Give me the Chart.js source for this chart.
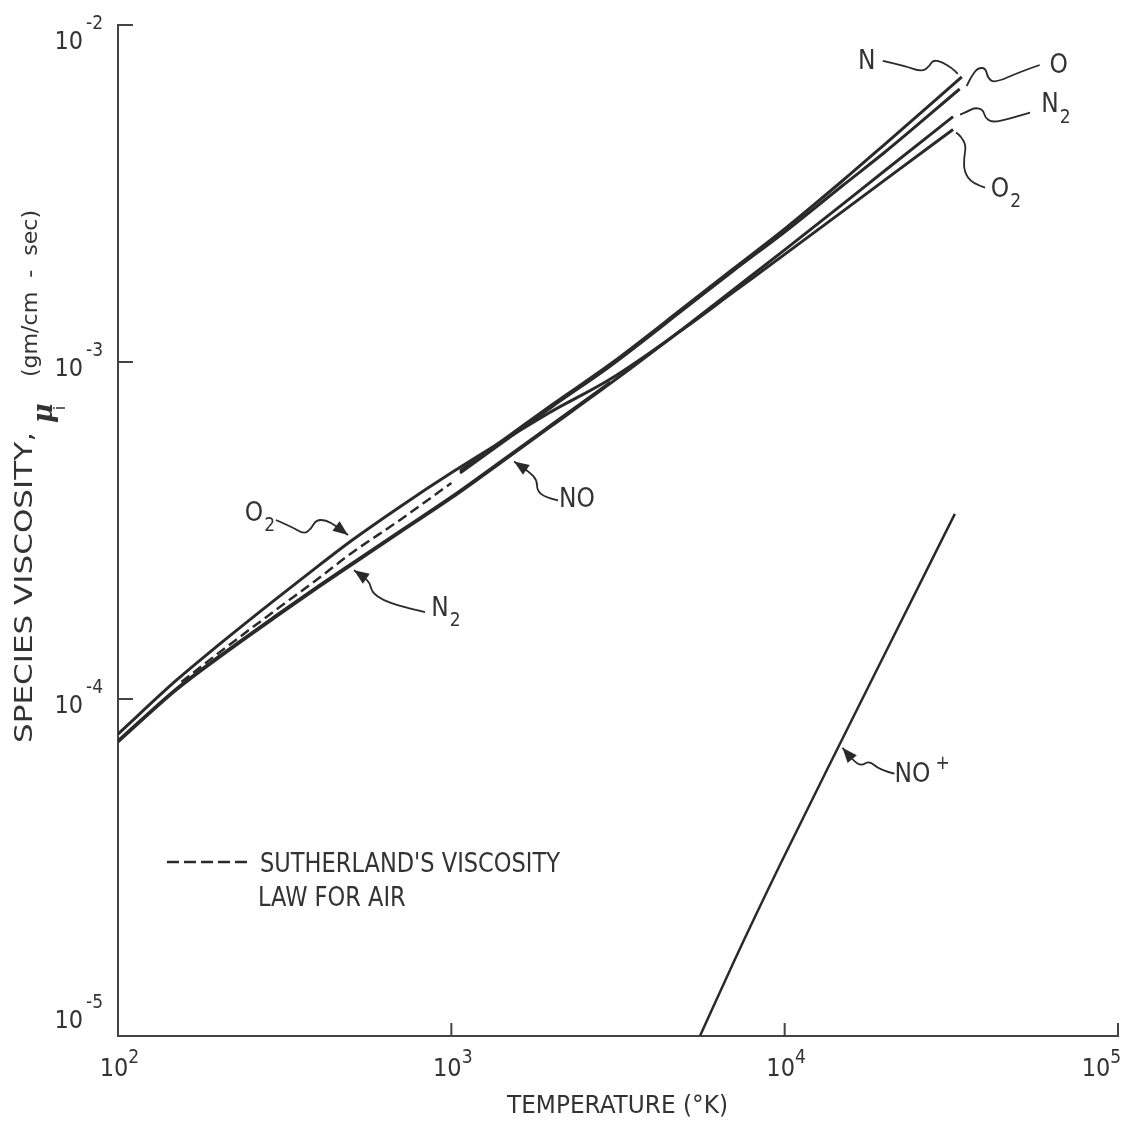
<!DOCTYPE html>
<html>
<head>
<meta charset="utf-8">
<title>Species viscosity</title>
<script src="https://cdn.jsdelivr.net/npm/chart.js@4.4.0/dist/chart.umd.min.js"></script>
<style>
  html, body { margin: 0; padding: 0; background: #fff; }
  canvas { display: block; }
</style>
</head>
<body>
<canvas id="viscosity_chart" width="1129" height="1121"></canvas>
<script>
/*------------------------------------------------------*/
/**
 * @file species viscosity vs temperature, log-log
 */
/*------------------------------------------------------*/

/**
 * @name temp_molecular
 * @description temperature grid (°K) shared by the N2 and O2 curves
 */
const temp_molecular = [100, 150, 200, 300, 400, 500, 700, 1000, 1500, 2000, 3000, 5000, 7000, 10000, 15000, 20000, 32000];
const visc_o2 = [7.87e-5, 1.139e-4, 1.445e-4, 1.993e-4, 2.487e-4, 2.943e-4, 3.715e-4, 4.690e-4, 6.014e-4, 7.135e-4, 8.898e-4, 1.259e-3, 1.609e-3, 2.086e-3, 2.808e-3, 3.470e-3, 4.896e-3];
const visc_n2 = [7.456e-5, 1.066e-4, 1.323e-4, 1.762e-4, 2.148e-4, 2.495e-4, 3.119e-4, 3.946e-4, 5.264e-4, 6.464e-4, 8.640e-4, 1.264e-3, 1.636e-3, 2.151e-3, 2.951e-3, 3.700e-3, 5.348e-3];

// NO runs along the top edge of N2
const temp_no = [100, 150, 200, 300, 400, 500, 700, 1000, 1500, 2000, 3000];
const visc_no = [7.532e-5, 1.077e-4, 1.336e-4, 1.780e-4, 2.171e-4, 2.521e-4, 3.151e-4, 3.987e-4, 5.318e-4, 6.531e-4, 8.728e-4];

// atomic species, only above ~1000 K
const temp_n = [1062, 1500, 2000, 3000, 5000, 7000, 10000, 15000, 20000, 34000];
const visc_n = [4.749e-4, 6.072e-4, 7.455e-4, 9.865e-4, 1.456e-3, 1.888e-3, 2.482e-3, 3.468e-3, 4.434e-3, 7.011e-3];
const temp_o = [1062, 1500, 2000, 3000, 5000, 7000, 10000, 15000, 20000, 33500];
const visc_o = [4.684e-4, 5.989e-4, 7.354e-4, 9.729e-4, 1.437e-3, 1.862e-3, 2.431e-3, 3.351e-3, 4.198e-3, 6.457e-3];

// Sutherland's law for air (dashed)
const temp_air = [155, 200, 300, 400, 500, 700, 1000];
const visc_air = [1.123e-4, 1.367e-4, 1.849e-4, 2.282e-4, 2.703e-4, 3.393e-4, 4.375e-4];

// NO+ ion
const temp_ion = [5570, 7000, 9700, 14600, 20000, 32400];
const visc_ion = [1.0e-5, 1.642e-5, 3.232e-5, 7.317e-5, 1.365e-4, 3.542e-4];

/**
 * @name x_ticks / y_ticks
 * @description decade ticks, labelled as powers of ten
 */
const x_ticks = [1e2, 1e3, 1e4, 1e5];
const x_exps = ['2', '3', '4', '5'];
const y_ticks = [1e-2, 1e-3, 1e-4, 1e-5];
const y_exps = ['-2', '-3', '-4', '-5'];

const ink = '#2a2a2a';
const narrow = '"Liberation Sans Narrow", "DejaVu Sans Condensed", "Arial Narrow", sans-serif';

const series = {
    O2: [temp_molecular, visc_o2],
    N2: [temp_molecular, visc_n2],
    NO: [temp_no, visc_no],
    N: [temp_n, visc_n],
    O: [temp_o, visc_o],
    ION: [temp_ion, visc_ion]
};

/**
 * @name notes
 * @description curve labels; anchor is a data point, offsets in px from it
 */
const notes = [
    {key: 'N', i: 9, text: 'N', label: [-95, -15],
     path: [[-79, -16], [-57, -11], [-40, -5], [-32, -11], [-29, -17], [-20, -15], [-10, -9], [-4, -3]]},
    {key: 'O', i: 9, text: 'O', label: [99, -23],
     path: [[80, -24], [60, -17], [35, -6], [28, -11], [26, -21], [18, -21], [12, -13], [7, -3]]},
    {key: 'N2', i: 16, text: 'N', sub: '2', label: [97, -11],
     path: [[77, -4], [57, 2], [39, 6], [32, 1], [30, -7], [22, -9], [14, -5], [7, -2]]},
    {key: 'O2', i: 16, text: 'O', sub: '2', label: [47, 61],
     path: [[32, 58], [19, 54], [11, 42], [11, 28], [13, 16], [8, 7], [3, 3]]},
    {key: 'O2', i: 5, text: 'O', sub: '2', label: [-97, -27], arrow: true,
     path: [[-75, -21], [-59, -14], [-47, -7], [-40, -12], [-35, -21], [-25, -21], [-15, -15], [-3, -6]]},
    {key: 'N2', i: 5, text: 'N', sub: '2', label: [89, 44], arrow: true,
     path: [[74, 47], [49, 41], [32, 35], [21, 27], [19, 18], [13, 12], [3, 5]]},
    {key: 'NO', i: 8, text: 'NO', label: [67, 46], arrow: true,
     path: [[48, 46], [35, 43], [27, 36], [27, 26], [20, 18], [4, 7]]},
    {key: 'ION', i: 3, text: 'NO', sup: '+', label: [73, 31], arrow: true,
     path: [[55, 29], [40, 25], [30, 16], [22, 21], [15, 17], [3, 3]]}
];

const pairs = (xs, ys) => xs.map((t, i) => ({x: t, y: ys[i]}));

const curve = (label, xs, ys, extra) => Object.assign({
    label: label,
    data: pairs(xs, ys),
    borderColor: ink,
    borderWidth: 3,
    pointRadius: 0,
    fill: false,
    cubicInterpolationMode: 'monotone'
}, extra || {});

const datasets = [
    curve('Sutherland', temp_air, visc_air, {borderDash: [10, 5], borderWidth: 2.5}),
    curve('O2', temp_molecular, visc_o2),
    curve('N2', temp_molecular, visc_n2),
    curve('NO', temp_no, visc_no, {borderWidth: 2.5}),
    curve('N', temp_n, visc_n),
    curve('O', temp_o, visc_o),
    curve('NO+', temp_ion, visc_ion, {borderWidth: 2.5})
];

// smooth pen stroke through a list of points
function drawLeader(ctx, pts) {
    ctx.beginPath();
    ctx.moveTo(pts[0][0], pts[0][1]);
    for (let k = 1; k < pts.length - 1; k++) {
        const mx = (pts[k][0] + pts[k + 1][0]) / 2;
        const my = (pts[k][1] + pts[k + 1][1]) / 2;
        ctx.quadraticCurveTo(pts[k][0], pts[k][1], mx, my);
    }
    const last = pts[pts.length - 1];
    ctx.lineTo(last[0], last[1]);
    ctx.stroke();
}

function drawArrow(ctx, from, tip) {
    const ang = Math.atan2(tip[1] - from[1], tip[0] - from[0]);
    const len = 15, half = 6;
    const bx = tip[0] - len * Math.cos(ang);
    const by = tip[1] - len * Math.sin(ang);
    ctx.beginPath();
    ctx.moveTo(tip[0], tip[1]);
    ctx.lineTo(bx + half * Math.sin(ang), by - half * Math.cos(ang));
    ctx.lineTo(bx - half * Math.sin(ang), by + half * Math.cos(ang));
    ctx.closePath();
    ctx.fill();
}

// text with a horizontal stretch factor (left aligned)
function wideText(ctx, text, x, y, sx) {
    ctx.save();
    ctx.translate(x, y);
    ctx.scale(sx, 1);
    ctx.textAlign = 'left';
    ctx.fillText(text, 0, 0);
    ctx.restore();
}

// text squeezed or stretched to a given width (left aligned)
function fitText(ctx, text, x, y, width) {
    wideText(ctx, text, x, y, width / ctx.measureText(text).width);
}

// label centred on its main text, sub/superscript hung on the right
function drawLabel(ctx, x, y, text, sub, sup) {
    ctx.textAlign = 'left';
    ctx.textBaseline = 'middle';
    ctx.font = `26px ${narrow}`;
    const w = ctx.measureText(text).width;
    const x0 = x - w / 2;
    ctx.fillText(text, x0, y);
    ctx.font = `19px ${narrow}`;
    if (sub) ctx.fillText(sub, x0 + w + 1, y + 12);
    if (sup) ctx.fillText(sup, x0 + w + 5, y - 12);
}

/**
 * @name figure_plugin
 * @description inside ticks, power-of-ten labels, axis titles, legend and curve labels
 */
const figure_plugin = {
    id: 'figure',
    afterDraw(chart) {
        const ctx = chart.ctx;
        const xs = chart.scales.x, ys = chart.scales.y;
        const area = chart.chartArea;
        ctx.save();
        ctx.strokeStyle = '#444';
        ctx.fillStyle = '#333';
        ctx.lineWidth = 2;

        // ticks point into the plot
        y_ticks.forEach(v => {
            const py = ys.getPixelForValue(v);
            if (py > area.bottom - 2) return;
            ctx.beginPath(); ctx.moveTo(area.left, py); ctx.lineTo(area.left + 15, py); ctx.stroke();
        });
        x_ticks.forEach(v => {
            const px = xs.getPixelForValue(v);
            if (px < area.left + 2) return;
            ctx.beginPath(); ctx.moveTo(px, area.bottom); ctx.lineTo(px, area.bottom - 13); ctx.stroke();
        });

        // y labels
        y_ticks.forEach((v, i) => {
            const py = ys.getPixelForValue(v);
            const dy = i === 0 ? 17 : (i === y_ticks.length - 1 ? -15 : 7);
            ctx.textBaseline = 'middle';
            ctx.font = `25px ${narrow}`;
            ctx.textAlign = 'right';
            ctx.fillText('10', area.left - 35, py + dy);
            ctx.font = `19px ${narrow}`;
            ctx.textAlign = 'left';
            ctx.fillText(y_exps[i], area.left - 32, py + dy - 18);
        });

        // x labels
        x_ticks.forEach((v, i) => {
            const px = xs.getPixelForValue(v);
            const cx = i === x_ticks.length - 1 ? px - 22 : px - 4;
            ctx.textBaseline = 'middle';
            ctx.font = `25px ${narrow}`;
            ctx.textAlign = 'center';
            ctx.fillText('10', cx, area.bottom + 33);
            const w = ctx.measureText('10').width;
            ctx.font = `19px ${narrow}`;
            ctx.textAlign = 'left';
            ctx.fillText(x_exps[i], cx + w / 2, area.bottom + 22);
        });

        // axis titles
        ctx.textBaseline = 'alphabetic';
        ctx.font = `25px ${narrow}`;
        fitText(ctx, 'TEMPERATURE (\u00B0K)', 507, area.bottom + 77, 221);

        ctx.save();
        ctx.translate(32, 743);
        ctx.rotate(-Math.PI / 2);
        ctx.font = `24px ${narrow}`;
        fitText(ctx, 'SPECIES VISCOSITY,', 0, 0, 311);
        ctx.font = 'bold italic 27px "DejaVu Serif", serif';
        ctx.fillText('\u03BC', 320, 20);
        ctx.font = `16px ${narrow}`;
        ctx.fillText('i', 333, 33);
        ctx.font = `21px ${narrow}`;
        fitText(ctx, '(gm/cm  -  sec)', 366, 5, 167);
        ctx.restore();

        // legend for the dashed curve, both lines at the same stretch
        ctx.save();
        ctx.setLineDash([12, 5]);
        ctx.lineWidth = 2.5;
        ctx.strokeStyle = ink;
        ctx.beginPath(); ctx.moveTo(area.left + 49, 862); ctx.lineTo(area.left + 130, 862); ctx.stroke();
        ctx.restore();
        ctx.font = `26px ${narrow}`;
        const sx = 300 / ctx.measureText("SUTHERLAND'S VISCOSITY").width;
        wideText(ctx, "SUTHERLAND'S VISCOSITY", area.left + 142, 872, sx);
        wideText(ctx, 'LAW FOR AIR', area.left + 140, 906, sx);

        // curve labels with wavy leaders
        ctx.lineWidth = 1.8;
        ctx.strokeStyle = ink;
        ctx.fillStyle = ink;
        notes.forEach(n => {
            const s = series[n.key];
            const ax = xs.getPixelForValue(s[0][n.i]);
            const ay = ys.getPixelForValue(s[1][n.i]);
            const pts = n.path.map(p => [ax + p[0], ay + p[1]]);
            drawLeader(ctx, pts);
            if (n.arrow) drawArrow(ctx, pts[pts.length - 2], pts[pts.length - 1]);
            ctx.fillStyle = '#333';
            drawLabel(ctx, ax + n.label[0], ay + n.label[1], n.text, n.sub, n.sup);
            ctx.fillStyle = ink;
        });
        ctx.restore();
    }
};

const options = {
    responsive: false,
    animation: false,
    devicePixelRatio: 1,
    layout: {padding: {top: 25, right: 11, left: 0, bottom: 0}},
    plugins: {legend: {display: false}, tooltip: {enabled: false}},
    scales: {
        x: {
            type: 'logarithmic', min: 1e2, max: 1e5,
            grid: {display: false},
            border: {display: true, color: '#444', width: 2},
            ticks: {display: false},
            afterFit: s => { s.height = 85; }
        },
        y: {
            type: 'logarithmic', min: 1e-5, max: 1e-2,
            grid: {display: false},
            border: {display: true, color: '#444', width: 2},
            ticks: {display: false},
            afterFit: s => { s.width = 118; }
        }
    }
};

const chart_viscosity = new Chart(document.getElementById('viscosity_chart'), {
    type: 'line',
    data: {datasets: datasets},
    options: options,
    plugins: [figure_plugin]
});
</script>
</body>
</html>
